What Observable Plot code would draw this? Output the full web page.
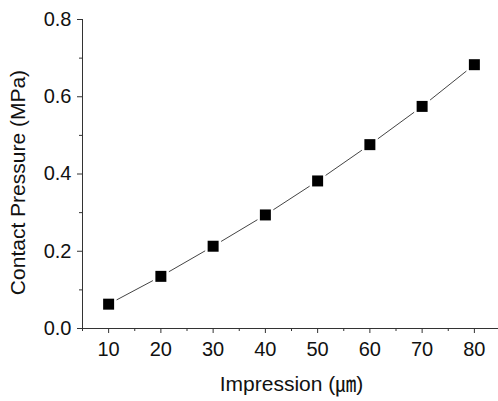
<!DOCTYPE html>
<html><head><meta charset="utf-8">
<script src="https://cdn.jsdelivr.net/npm/d3@7"></script>
<script src="https://cdn.jsdelivr.net/npm/@observablehq/plot@0.6"></script>
<style>body{margin:0;background:#fff}</style>
</head><body><div id="chart"></div>
<script>
const impression = [10, 20, 30, 40, 50, 60, 70, 80];
const pressure = [0.063, 0.135, 0.213, 0.294, 0.382, 0.476, 0.575, 0.683];
const xTicks = [10, 20, 30, 40, 50, 60, 70, 80];
const xMinorTicks = [5, 15, 25, 35, 45, 55, 65, 75];
const yTicks = [0, 0.2, 0.4, 0.6, 0.8];
const yMinorTicks = [0.1, 0.3, 0.5, 0.7];
const xTitle = "Impression (\u339B)";
const yTitle = "Contact Pressure (MPa)";

const data = impression.map((x, i) => ({x, y: pressure[i]}));
const axisColor = "#333";

const chart = Plot.plot({
  width: 498, height: 401,
  marginLeft: 82, marginRight: -2, marginTop: 19, marginBottom: 73,
  style: {fontFamily: '"Liberation Sans", Arial, "Noto Sans CJK JP", sans-serif', fontSize: "20px", color: "#111", background: "#fff"},
  x: {domain: [5, 85]},
  y: {domain: [0, 0.8]},
  marks: [
    Plot.ruleX([5], {stroke: axisColor}),
    Plot.ruleY([0], {stroke: axisColor}),
    Plot.axisX({ticks: xTicks, tickSize: 5, tickPadding: 8, tickFormat: d => String(d), label: null, stroke: axisColor, fontSize: 20}),
    Plot.axisX({ticks: xMinorTicks, tickSize: 3, tickFormat: () => "", label: null, stroke: axisColor}),
    Plot.axisY({ticks: yTicks, tickSize: 5, tickPadding: 6, tickFormat: d3.format(".1f"), label: null, stroke: axisColor, fontSize: 20}),
    Plot.axisY({ticks: yMinorTicks, tickSize: 3, tickFormat: () => "", label: null, stroke: axisColor}),
    Plot.line(data, {x: "x", y: "y", stroke: "#444", strokeWidth: 1}),
    Plot.dot(data, {x: "x", y: "y", symbol: "square", r: 9, fill: "white"}),
    Plot.dot(data, {x: "x", y: "y", symbol: "square", r: 6.2, fill: "black"}),
    Plot.text([yTitle], {frameAnchor: "left", text: d => d, rotate: -90, textAnchor: "middle", dx: -64, dy: 8.5, fontSize: 21, fill: "#111"}),
    Plot.text([xTitle], {frameAnchor: "bottom", text: d => d, textAnchor: "middle", dy: 62, fontSize: 21, fill: "#111"})
  ]
});
document.getElementById("chart").appendChild(chart);
</script>
</body></html>
